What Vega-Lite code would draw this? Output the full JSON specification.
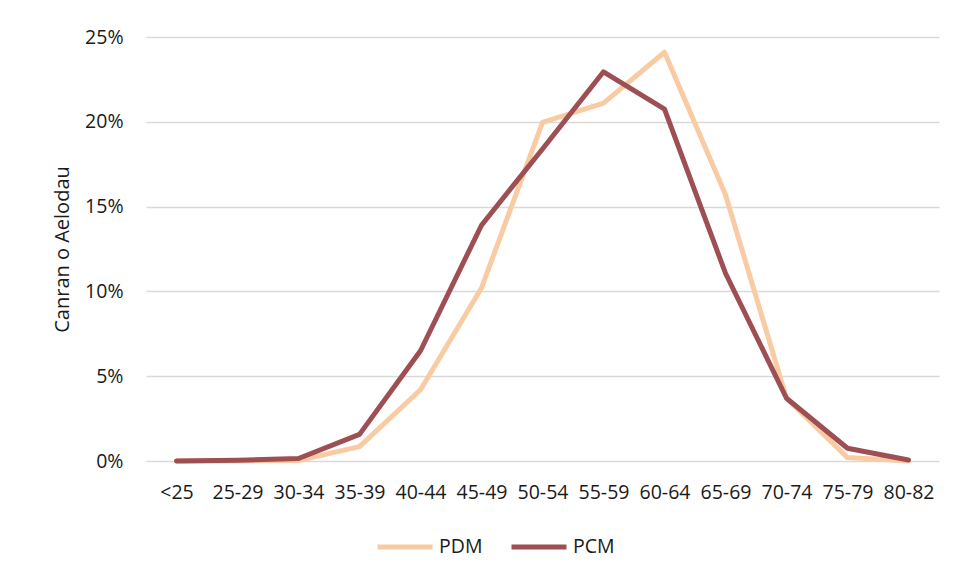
{
  "$schema": "https://vega.github.io/schema/vega-lite/v6.json",
  "width": 793,
  "height": 424,
  "autosize": {"type": "none"},
  "padding": {"left": 146, "top": 37, "right": 18, "bottom": 119},
  "background": "white",
  "config": {
    "font": "Open Sans",
    "view": {"stroke": null},
    "axis": {"labelFont": "Open Sans", "titleFont": "Open Sans", "labelColor": "#1a1a1a", "titleColor": "#1a1a1a"}
  },
  "data": {
    "values": [
      {"age": "<25", "series": "PDM", "value": 0.0},
      {"age": "25-29", "series": "PDM", "value": 0.0},
      {"age": "30-34", "series": "PDM", "value": 0.0003},
      {"age": "35-39", "series": "PDM", "value": 0.0085},
      {"age": "40-44", "series": "PDM", "value": 0.042},
      {"age": "45-49", "series": "PDM", "value": 0.102},
      {"age": "50-54", "series": "PDM", "value": 0.1997},
      {"age": "55-59", "series": "PDM", "value": 0.211},
      {"age": "60-64", "series": "PDM", "value": 0.241},
      {"age": "65-69", "series": "PDM", "value": 0.157},
      {"age": "70-74", "series": "PDM", "value": 0.037},
      {"age": "75-79", "series": "PDM", "value": 0.002},
      {"age": "80-82", "series": "PDM", "value": 0.0},
      {"age": "<25", "series": "PCM", "value": 0.0},
      {"age": "25-29", "series": "PCM", "value": 0.0005},
      {"age": "30-34", "series": "PCM", "value": 0.0015},
      {"age": "35-39", "series": "PCM", "value": 0.0157},
      {"age": "40-44", "series": "PCM", "value": 0.065},
      {"age": "45-49", "series": "PCM", "value": 0.139},
      {"age": "50-54", "series": "PCM", "value": 0.184},
      {"age": "55-59", "series": "PCM", "value": 0.2295},
      {"age": "60-64", "series": "PCM", "value": 0.2075},
      {"age": "65-69", "series": "PCM", "value": 0.1107},
      {"age": "70-74", "series": "PCM", "value": 0.037},
      {"age": "75-79", "series": "PCM", "value": 0.0075},
      {"age": "80-82", "series": "PCM", "value": 0.0006}
    ]
  },
  "encoding": {
    "x": {
      "field": "age", "type": "ordinal",
      "sort": ["<25","25-29","30-34","35-39","40-44","45-49","50-54","55-59","60-64","65-69","70-74","75-79","80-82"],
      "scale": {"type": "point", "padding": 0.5},
      "axis": {"title": null, "labelAngle": 0, "ticks": false, "domain": false, "grid": false, "labelFontSize": 19.5, "labelPadding": 22}
    },
    "y": {
      "field": "value", "type": "quantitative",
      "scale": {"domain": [0, 0.25], "nice": false},
      "axis": {"title": "Canran o Aelodau", "format": ".0%", "values": [0, 0.05, 0.1, 0.15, 0.2, 0.25], "ticks": false, "domain": false, "grid": true, "gridColor": "#d9d9d9", "gridWidth": 1.3, "labelFontSize": 19.5, "labelPadding": 23, "titleFontSize": 20, "titleFontWeight": "normal", "titlePadding": 12}
    },
    "color": {
      "field": "series", "type": "nominal",
      "scale": {"domain": ["PDM", "PCM"], "range": ["#F8CBA3", "#9E4F53"]},
      "legend": {"title": null, "orient": "none", "direction": "horizontal", "legendX": 229, "legendY": 480, "symbolType": "stroke", "symbolSize": 3025, "symbolStrokeWidth": 5, "labelFontSize": 19.5, "labelColor": "#1a1a1a", "labelOffset": 4, "columnPadding": 18, "labelFont": "Open Sans"}
    }
  },
  "layer": [
    {"transform": [{"filter": "datum.series === 'PDM'"}], "mark": {"type": "line", "strokeWidth": 5, "strokeJoin": "round", "strokeCap": "round"}},
    {"transform": [{"filter": "datum.series === 'PCM'"}], "mark": {"type": "line", "strokeWidth": 5, "strokeJoin": "round", "strokeCap": "round"}}
  ]
}
